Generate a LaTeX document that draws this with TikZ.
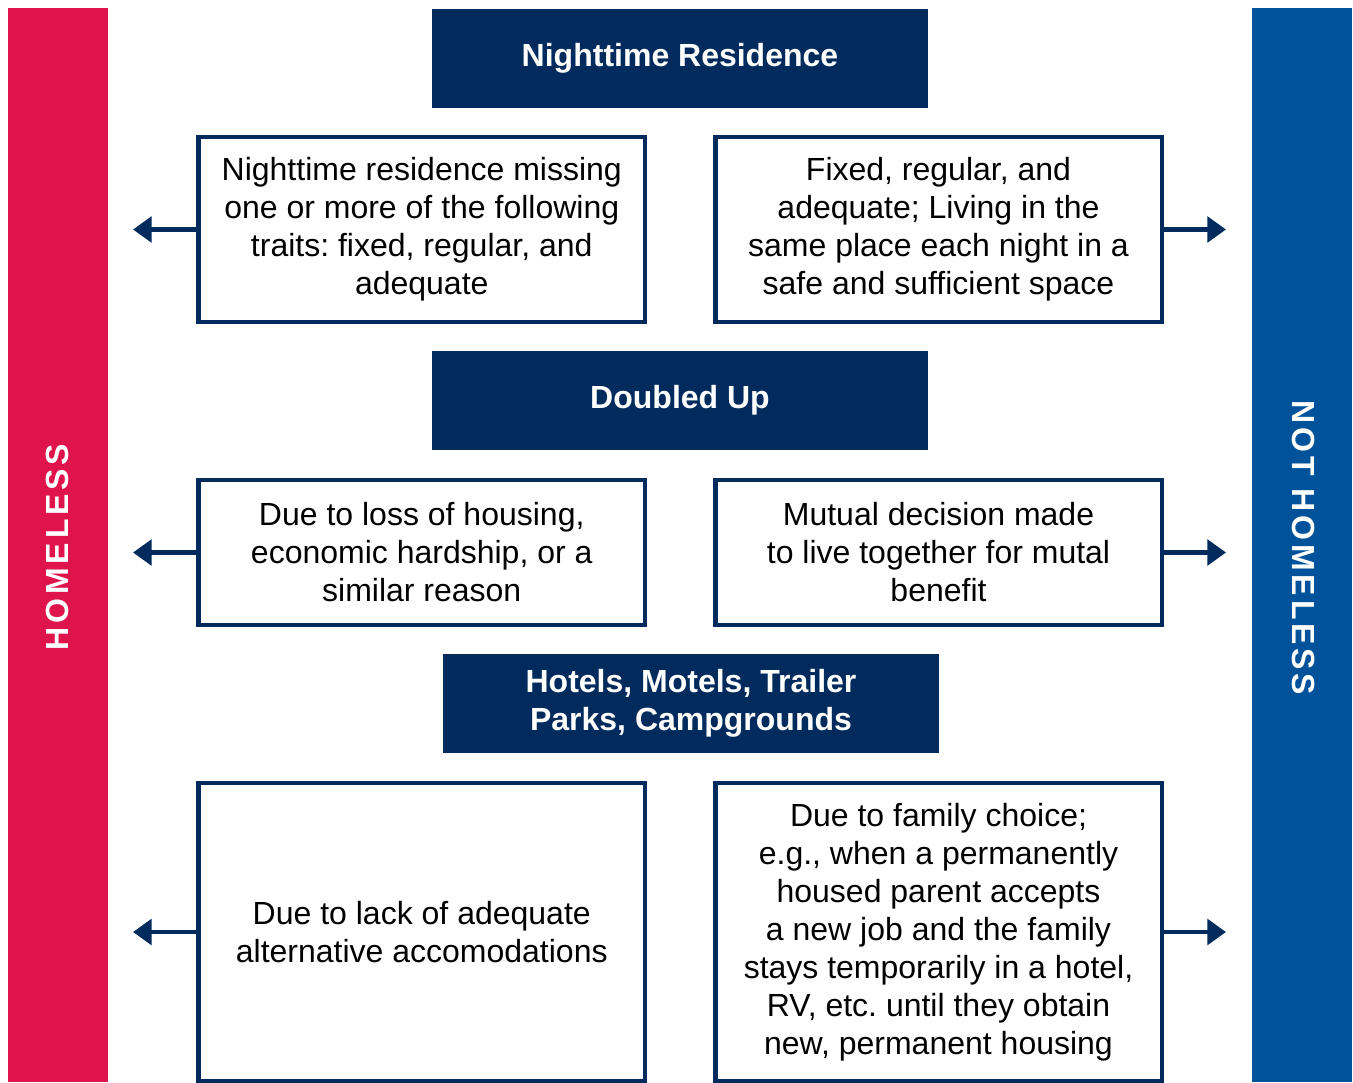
\documentclass[tikz,border=0pt]{standalone}
\usepackage{fontspec}
\setmainfont{Liberation Sans}
\usetikzlibrary{arrows.meta}
\definecolor{navy}{HTML}{002B5C}
\definecolor{homered}{HTML}{E0144C}
\definecolor{notblue}{HTML}{00529B}
\frenchspacing
\begin{document}
\begin{tikzpicture}
        [x=0.75pt, y=-0.75pt,
         head_style/.style={fill=navy,text=white,inner sep=0pt,align=center,
           minimum width=372pt,minimum height=74.25pt,
           font=\fontsize{24pt}{28.5pt}\selectfont\bfseries},
         box_style/.style={draw=navy,line width=3.5pt,inner sep=0pt,align=center,
           minimum width=335pt,
           font=\fontsize{24pt}{28.5pt}\selectfont},
         side_style/.style={text=white,inner sep=0pt,
           font=\fontsize{24pt}{28.5pt}\selectfont\bfseries\addfontfeature{LetterSpace=12}},
         arrow_style/.style={draw=navy,line width=3.5pt,-{Triangle[length=14pt,width=19pt]}}]
            \useasboundingbox (0,0) rectangle (1353,1082);
            % side bars
            \fill[homered] (8,8) rectangle (108,1082);
            \fill[notblue] (1252,8) rectangle (1352,1082);
            \node[side_style,rotate=90] (homeless) at (57,547) {HOMELESS};
            \node[side_style,rotate=-90] (nothomeless) at (1303,548) {NOT HOMELESS};
            % headers
            \node[head_style] (h1) at (680,58.5) {Nighttime Residence};
            \node[head_style] (h2) at (680,400.5) {Doubled Up};
            \node[head_style] (h3) at (691,703.5) {Hotels, Motels, Trailer\\Parks, Campgrounds};
            % boxes
            \node[box_style,minimum height=138.75pt] (b1l) at (421.75,229.5)
              {Nighttime residence missing\\one or more of the following\\traits: fixed, regular, and\\adequate};
            \node[box_style,minimum height=138.75pt] (b1r) at (938.5,229.5)
              {Fixed, regular, and\\adequate; Living in the\\same place each night in a\\safe and sufficient space};
            \node[box_style,minimum height=108.75pt] (b2l) at (421.75,552.5)
              {Due to loss of housing,\\economic hardship, or a\\similar reason};
            \node[box_style,minimum height=108.75pt] (b2r) at (938.5,552.5)
              {Mutual decision made\\to live together for mutal\\benefit};
            \node[box_style,minimum height=223.5pt] (b3l) at (421.75,932)
              {Due to lack of adequate\\alternative accomodations};
            \node[box_style,minimum height=223.5pt] (b3r) at (938.5,932)
              {Due to family choice;\\e.g., when a permanently\\housed parent accepts\\a new job and the family\\stays temporarily in a hotel,\\RV, etc. until they obtain\\new, permanent housing};
            % arrow ends
            \coordinate (e1l) at (133,229.5);
            \coordinate (e1r) at (1226,229.5);
            \coordinate (e2l) at (133,552.5);
            \coordinate (e2r) at (1226,552.5);
            \coordinate (e3l) at (133,932);
            \coordinate (e3r) at (1226,932);
            \draw[arrow_style] (b1l.west) -- (e1l);
            \draw[arrow_style] (b1r.east) -- (e1r);
            \draw[arrow_style] (b2l.west) -- (e2l);
            \draw[arrow_style] (b2r.east) -- (e2r);
            \draw[arrow_style] (b3l.west) -- (e3l);
            \draw[arrow_style] (b3r.east) -- (e3r);
        \end{tikzpicture}
\end{document}
